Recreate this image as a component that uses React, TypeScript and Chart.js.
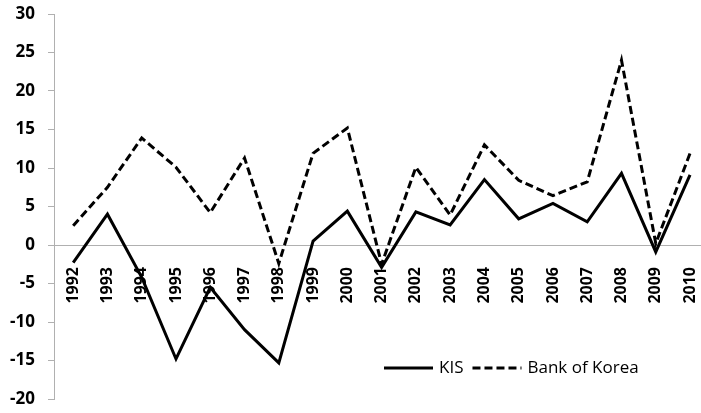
import React, { useEffect, useRef } from "react";
import { Chart, registerables } from "chart.js";

Chart.register(...registerables);

const years = [1992, 1993, 1994, 1995, 1996, 1997, 1998, 1999, 2000, 2001, 2002, 2003, 2004, 2005, 2006, 2007, 2008, 2009, 2010];
const kis = [-2.3, 4.0, -4.2, -14.8, -5.5, -11.0, -15.3, 0.5, 4.4, -2.9, 4.3, 2.6, 8.5, 3.4, 5.4, 3.0, 9.3, -0.9, 9.1];
const bok = [2.5, 7.5, 13.9, 10.1, 4.2, 11.3, -2.4, 11.9, 15.2, -2.5, 10.1, 3.9, 13.0, 8.4, 6.4, 8.2, 24.0, 0.2, 11.9];
const yTicks = [-20, -15, -10, -5, 0, 5, 10, 15, 20, 25, 30];

const FONT = "'Open Sans', 'Noto Sans', sans-serif";

const legendPlugin = {
  id: "insideLegend",
  afterDraw(chart: any) {
    const ctx = chart.ctx;
    const area = chart.chartArea;
    ctx.save();
    ctx.font = `17px ${FONT}`;
    ctx.textBaseline = "middle";
    ctx.fillStyle = "#000";
    let x = area.left + 330;
    const y = area.bottom - 31;
    chart.data.datasets.forEach((ds: any) => {
      ctx.beginPath();
      ctx.strokeStyle = ds.borderColor;
      ctx.lineWidth = ds.borderWidth;
      ctx.setLineDash(ds.borderDash || []);
      ctx.moveTo(x, y);
      ctx.lineTo(x + 49, y);
      ctx.stroke();
      ctx.setLineDash([]);
      x += 55;
      ctx.fillText(ds.label, x, y);
      x += ctx.measureText(ds.label).width + 9;
    });
    ctx.restore();
  },
};

export default function App() {
  const ref = useRef<HTMLCanvasElement>(null);
  useEffect(() => {
    if (!ref.current) return;
    const chart = new Chart(ref.current, {
      type: "line",
      data: {
        datasets: [
          {
            label: "KIS",
            data: years.map((yr, i) => ({ x: yr, y: kis[i] })),
            borderColor: "#000",
            borderWidth: 3,
            pointRadius: 0,
            tension: 0,
          },
          {
            label: "Bank of Korea",
            data: years.map((yr, i) => ({ x: yr, y: bok[i] })),
            borderColor: "#000",
            borderWidth: 3,
            borderDash: [8, 4],
            pointRadius: 0,
            tension: 0,
          },
        ],
      },
      plugins: [legendPlugin],
      options: {
        animation: false,
        responsive: false,
        layout: { padding: { top: 14, bottom: 14, left: 0, right: 0 } },
        plugins: { legend: { display: false }, tooltip: { enabled: false } },
        scales: {
          x: {
            type: "linear",
            position: { y: 0 } as any,
            min: 1991.44,
            max: 2010.32,
            afterBuildTicks: (scale: any) => {
              scale.ticks = years.map((v) => ({ value: v }));
            },
            afterFit: (scale: any) => {
              scale.paddingLeft = 0;
              scale.paddingRight = 0;
              scale.paddingTop = 0;
              scale.paddingBottom = 0;
            },
            ticks: {
              autoSkip: false,
              minRotation: 90,
              maxRotation: 90,
              padding: 14,
              color: "#000",
              font: { family: FONT, size: 16, weight: "bold" },
              callback: (v: any) => String(v),
            },
            grid: { display: false },
            border: { display: true, color: "#b0b0b0", width: 1 },
          },
          y: {
            min: -20,
            max: 30,
            afterBuildTicks: (scale: any) => {
              scale.ticks = yTicks.map((v) => ({ value: v }));
            },
            afterFit: (scale: any) => {
              scale.width = 54;
              scale.paddingTop = 0;
              scale.paddingBottom = 0;
            },
            ticks: {
              padding: 13,
              color: "#000",
              font: { family: FONT, size: 17, weight: "bold" },
            },
            grid: { drawOnChartArea: false, drawTicks: true, tickLength: 6, color: "#b0b0b0" },
            border: { display: true, color: "#b0b0b0", width: 1 },
          },
        },
      },
    });
    return () => chart.destroy();
  }, []);
  return (
    <div style={{ position: "fixed", left: 0, top: 0, width: 701, height: 413, overflow: "hidden", background: "#fff" }}>
      <canvas ref={ref} width={701} height={413} style={{ display: "block", width: 701, height: 413 }} />
    </div>
  );
}
